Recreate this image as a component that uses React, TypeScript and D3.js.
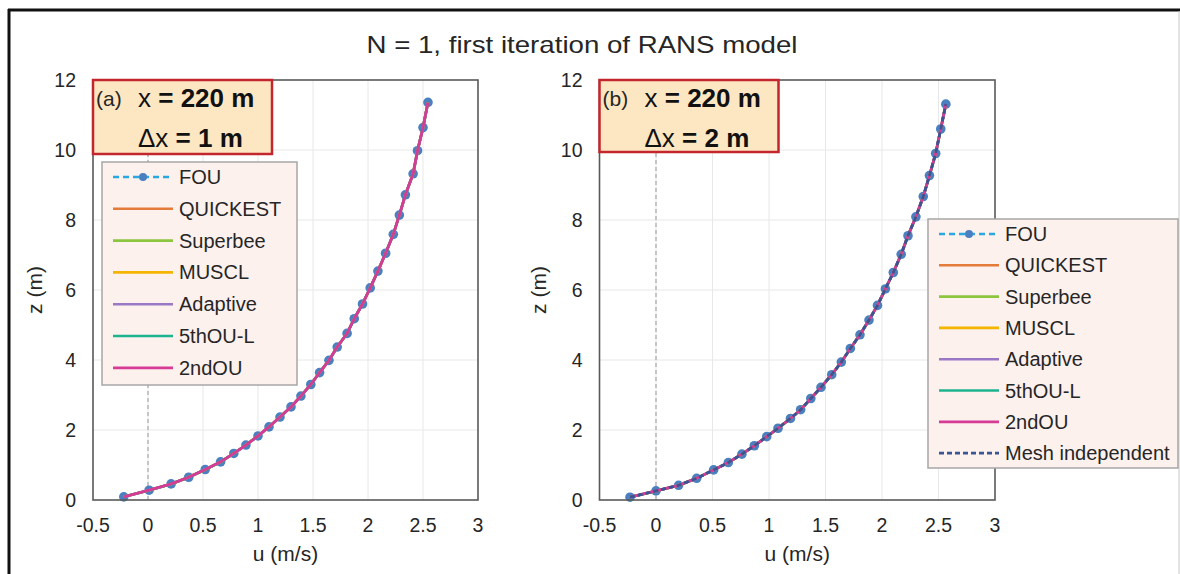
import React from 'react';
import * as d3 from 'd3';

// ---------- data ----------
const uTicks = [-0.5, 0, 0.5, 1, 1.5, 2, 2.5, 3];
const zTicks = [0, 2, 4, 6, 8, 10, 12];

// panel (a): dx = 1 m — all schemes overlap visually
const zA = [0.09, 0.28, 0.46, 0.65, 0.87, 1.09, 1.33, 1.57, 1.83, 2.09, 2.37, 2.66, 2.97, 3.30, 3.64, 3.99, 4.37, 4.76, 5.18, 5.60, 6.06, 6.54, 7.05, 7.59, 8.14, 8.72, 9.32, 9.98, 10.64, 11.36];
const uA = [-0.22, 0.01, 0.21, 0.37, 0.52, 0.66, 0.78, 0.89, 1.00, 1.10, 1.20, 1.30, 1.39, 1.48, 1.56, 1.645, 1.72, 1.81, 1.875, 1.95, 2.02, 2.09, 2.16, 2.23, 2.285, 2.34, 2.41, 2.45, 2.50, 2.545];

// panel (b): dx = 2 m
const zB = [0.08, 0.26, 0.42, 0.62, 0.86, 1.07, 1.31, 1.55, 1.81, 2.05, 2.33, 2.58, 2.90, 3.22, 3.58, 3.94, 4.33, 4.72, 5.14, 5.56, 6.03, 6.50, 7.02, 7.55, 8.09, 8.67, 9.27, 9.90, 10.60, 11.31];
const uB = [-0.23, 0.0, 0.20, 0.36, 0.51, 0.64, 0.76, 0.87, 0.98, 1.08, 1.19, 1.28, 1.37, 1.46, 1.555, 1.64, 1.72, 1.805, 1.885, 1.96, 2.03, 2.10, 2.17, 2.23, 2.30, 2.365, 2.42, 2.475, 2.52, 2.565];

const schemesA = ['FOU', 'QUICKEST', 'Superbee', 'MUSCL', 'Adaptive', '5thOU-L', '2ndOU'];
const schemesB = [...schemesA, 'Mesh independent'];

// ---------- styles ----------
const STYLE: Record<string, { color: string; dash?: string; width: number; marker?: boolean }> = {
  'FOU': { color: '#2aa8e0', dash: '6,4', width: 2.4, marker: true },
  'QUICKEST': { color: '#e57b3a', width: 2.6 },
  'Superbee': { color: '#8cc63f', width: 2.6 },
  'MUSCL': { color: '#f4b400', width: 2.6 },
  'Adaptive': { color: '#9a78c6', width: 2.6 },
  '5thOU-L': { color: '#1db38e', width: 2.6 },
  '2ndOU': { color: '#d63b95', width: 2.8 },
  'Mesh independent': { color: '#3a5592', dash: '5,3', width: 2.8 },
};
const MARKER = '#4a80c0';
const FONT = 'Liberation Sans, Arial, Helvetica, sans-serif';
const TXT = '#262626';

type PanelProps = {
  xr: [number, number];
  yr: [number, number];
  z: number[];
  u: number[];
  schemes: string[];
  tag: string;
  dxLabel: string;
  box: { x: number; y: number; w: number; h: number };
  legend: { x: number; y: number; w: number; h: number; rowH: number; first: number };
  yLabelX: number;
};

function Panel(p: PanelProps) {
  const x = d3.scaleLinear().domain([-0.5, 3]).range(p.xr);
  const y = d3.scaleLinear().domain([0, 12]).range(p.yr);
  const pts = p.u.map((uu, i) => [uu, p.z[i]] as [number, number]);
  const line = d3.line<[number, number]>().x(d => x(d[0])).y(d => y(d[1]));
  const path = line(pts) || '';
  const [L, R] = p.xr;
  const [B, T] = p.yr;
  const others = p.schemes.filter(s => s !== 'FOU');
  const fou = STYLE['FOU'];
  return (
    <g>
      {/* grid */}
      {uTicks.slice(1, -1).map(t => (
        <line key={'gx' + t} x1={x(t)} x2={x(t)} y1={B} y2={T} stroke="#e8e8e8" strokeWidth={1} />
      ))}
      {zTicks.slice(1, -1).map(t => (
        <line key={'gy' + t} x1={L} x2={R} y1={y(t)} y2={y(t)} stroke="#e8e8e8" strokeWidth={1} />
      ))}
      {/* zero line */}
      <line x1={x(0)} x2={x(0)} y1={B} y2={T} stroke="#a8a8a8" strokeWidth={1.2} strokeDasharray="4,3" />
      {/* FOU */}
      <path d={path} fill="none" stroke={fou.color} strokeWidth={fou.width} strokeDasharray={fou.dash} />
      {pts.map((d, i) => (
        <circle key={'m' + i} cx={x(d[0])} cy={y(d[1])} r={4.8} fill={MARKER} />
      ))}
      {others.map(s => {
        const st = STYLE[s];
        return <path key={s} d={path} fill="none" stroke={st.color} strokeWidth={st.width} strokeDasharray={st.dash} />;
      })}
      {/* frame */}
      <rect x={L} y={T} width={R - L} height={B - T} fill="none" stroke="#595959" strokeWidth={1.6} />
      {/* ticks */}
      {uTicks.map(t => (
        <text key={'tx' + t} x={x(t)} y={B + 32} textAnchor="middle" fontSize={19.5} fontFamily={FONT} fill={TXT}>{t}</text>
      ))}
      {zTicks.map(t => (
        <text key={'ty' + t} x={L - 17} y={y(t) + 7} textAnchor="end" fontSize={19.5} fontFamily={FONT} fill={TXT}>{t}</text>
      ))}
      <text x={(L + R) / 2} y={B + 61} textAnchor="middle" fontSize={21} fontFamily={FONT} fill={TXT}>u (m/s)</text>
      <text transform={`translate(${p.yLabelX},${(B + T) / 2}) rotate(-90)`} textAnchor="middle" fontSize={21} fontFamily={FONT} fill={TXT}>z (m)</text>
      {/* annotation box */}
      <rect x={p.box.x} y={p.box.y} width={p.box.w} height={p.box.h} fill="#fde7c2" stroke="#c4262d" strokeWidth={2.5} />
      <text x={p.box.x + 3} y={p.box.y + 26} fontSize={21} fontFamily={FONT} fill={TXT}>{p.tag}</text>
      <text x={p.box.x + 45} y={p.box.y + 27} fontSize={26} fontFamily={FONT} fill="#111">
        x <tspan fontWeight="bold">= 220 m</tspan>
      </text>
      <text x={p.box.x + 45} y={p.box.y + 67} fontSize={26} fontFamily={FONT} fill="#111">
        Δx <tspan fontWeight="bold">= {p.dxLabel} m</tspan>
      </text>
      {/* legend */}
      <rect x={p.legend.x} y={p.legend.y} width={p.legend.w} height={p.legend.h} fill="#fdf1ee" stroke="#a6a6a6" strokeWidth={1.5} />
      {p.schemes.map((s, i) => {
        const st = STYLE[s];
        const cy = p.legend.y + p.legend.first + i * p.legend.rowH;
        const lx0 = p.legend.x + 11;
        const lx1 = lx0 + 60;
        return (
          <g key={'lg' + s}>
            <line x1={lx0} x2={lx1} y1={cy} y2={cy} stroke={st.color} strokeWidth={st.width} strokeDasharray={st.dash} />
            {st.marker && <circle cx={(lx0 + lx1) / 2} cy={cy} r={4} fill={MARKER} />}
            <text x={lx1 + 6} y={cy + 7} fontSize={20} fontFamily={FONT} fill={TXT}>{s}</text>
          </g>
        );
      })}
    </g>
  );
}

export default function App() {
  return (
    <div style={{ position: 'absolute', left: 0, top: 0 }}>
      <svg width={1180} height={574} viewBox="0 0 1180 574" style={{ display: 'block', background: '#fff' }}>
        <rect x={0} y={0} width={1180} height={574} fill="#fff" />
        {/* outer frame */}
        <line x1={8} x2={1180} y1={10} y2={10} stroke="#111" strokeWidth={3} />
        <line x1={9} x2={9} y1={9} y2={574} stroke="#111" strokeWidth={3} />
        <line x1={1179} x2={1179} y1={11} y2={574} stroke="#c8c8c8" strokeWidth={1} />
        <text x={582} y={53} textAnchor="middle" fontSize={24} fontFamily={FONT} fill={TXT} textLength={431} lengthAdjust="spacingAndGlyphs">
          N = 1, first iteration of RANS model
        </text>
        <Panel
          xr={[93, 478]}
          yr={[500, 80]}
          z={zA}
          u={uA}
          schemes={schemesA}
          tag="(a)"
          dxLabel="1"
          box={{ x: 93, y: 80, w: 179, h: 74 }}
          legend={{ x: 102, y: 162, w: 195, h: 223, rowH: 31.8, first: 15 }}
          yLabelX={42}
        />
        <Panel
          xr={[599.5, 995]}
          yr={[500, 80]}
          z={zB}
          u={uB}
          schemes={schemesB}
          tag="(b)"
          dxLabel="2"
          box={{ x: 599.5, y: 80, w: 179, h: 72 }}
          legend={{ x: 928, y: 219, w: 250, h: 249, rowH: 31.3, first: 15 }}
          yLabelX={546}
        />
      </svg>
    </div>
  );
}
